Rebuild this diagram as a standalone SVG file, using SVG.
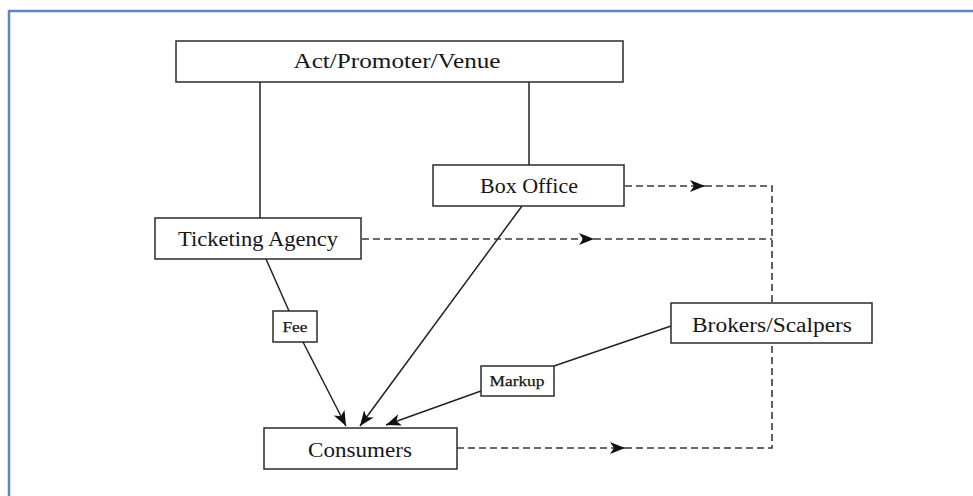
<svg xmlns="http://www.w3.org/2000/svg" width="973" height="496" viewBox="0 0 973 496">
  <style>
    .box { fill: #ffffff; stroke: #2b2b2b; stroke-width: 1.5; }
    .lbl { font-family: "Liberation Serif", "Times New Roman", serif; fill: #161616; text-anchor: middle; }
    .big { font-size: 20px; }
    .small { font-size: 15px; stroke: #161616; stroke-width: 0.25; }
    .solid { fill: none; stroke: #222222; stroke-width: 1.5; }
    .dash { fill: none; stroke: #3a3a3a; stroke-width: 1.6; stroke-dasharray: 7 4; }
  </style>
  <defs>
    <marker id="arrow" markerUnits="userSpaceOnUse" markerWidth="16" markerHeight="14" refX="15" refY="7" orient="auto">
      <path d="M0,1 L15,7 L0,13 L4,7 Z" fill="#111111"/>
    </marker>
  </defs>

  <rect width="973" height="496" fill="#ffffff"/>
  <!-- frame -->
  <path d="M9,496 V11 H973" fill="none" stroke="#5b84c9" stroke-width="2.5"/>

  <g id="connectors">
    <!-- solid links -->
    <line class="solid" x1="260" y1="82" x2="260" y2="218"/>
    <line class="solid" x1="529" y1="82" x2="529" y2="165"/>
    <line class="solid" x1="266" y1="259" x2="289" y2="311"/>
    <line class="solid" x1="303" y1="342" x2="346" y2="426" marker-end="url(#arrow)"/>
    <line class="solid" x1="522" y1="206" x2="360" y2="426" marker-end="url(#arrow)"/>
    <line class="solid" x1="671" y1="326" x2="554" y2="366"/>
    <line class="solid" x1="481" y1="391" x2="386" y2="425" marker-end="url(#arrow)"/>
    <!-- dashed resale flows -->
    <path class="dash" d="M625,186 H705" marker-end="url(#arrow)"/>
    <path class="dash" d="M705,186 H772 V303"/>
    <path class="dash" d="M362,239 H594" marker-end="url(#arrow)"/>
    <path class="dash" d="M594,239 H772"/>
    <path class="dash" d="M457,448 H625" marker-end="url(#arrow)"/>
    <path class="dash" d="M625,448 H772 V343"/>
  </g>

  <g id="act-promoter-venue">
    <rect class="box" x="176" y="41" width="447" height="41"/>
    <text class="lbl big" x="397" y="68" textLength="207" lengthAdjust="spacingAndGlyphs">Act/Promoter/Venue</text>
  </g>
  <g id="box-office">
    <rect class="box" x="433" y="165" width="191" height="41"/>
    <text class="lbl big" x="529" y="193" textLength="98" lengthAdjust="spacingAndGlyphs">Box Office</text>
  </g>
  <g id="ticketing-agency">
    <rect class="box" x="155" y="218" width="206" height="41"/>
    <text class="lbl big" x="258" y="246" textLength="160" lengthAdjust="spacingAndGlyphs">Ticketing Agency</text>
  </g>
  <g id="brokers-scalpers">
    <rect class="box" x="671" y="303" width="201" height="40"/>
    <text class="lbl big" x="772" y="332" textLength="160" lengthAdjust="spacingAndGlyphs">Brokers/Scalpers</text>
  </g>
  <g id="fee">
    <rect class="box" x="273" y="311" width="44" height="31"/>
    <text class="lbl small" x="295" y="332" textLength="25" lengthAdjust="spacingAndGlyphs">Fee</text>
  </g>
  <g id="markup">
    <rect class="box" x="481" y="366" width="73" height="30"/>
    <text class="lbl small" x="517" y="386" textLength="55" lengthAdjust="spacingAndGlyphs">Markup</text>
  </g>
  <g id="consumers">
    <rect class="box" x="264" y="428" width="193" height="41"/>
    <text class="lbl big" x="360" y="457" textLength="104" lengthAdjust="spacingAndGlyphs">Consumers</text>
  </g>
</svg>
